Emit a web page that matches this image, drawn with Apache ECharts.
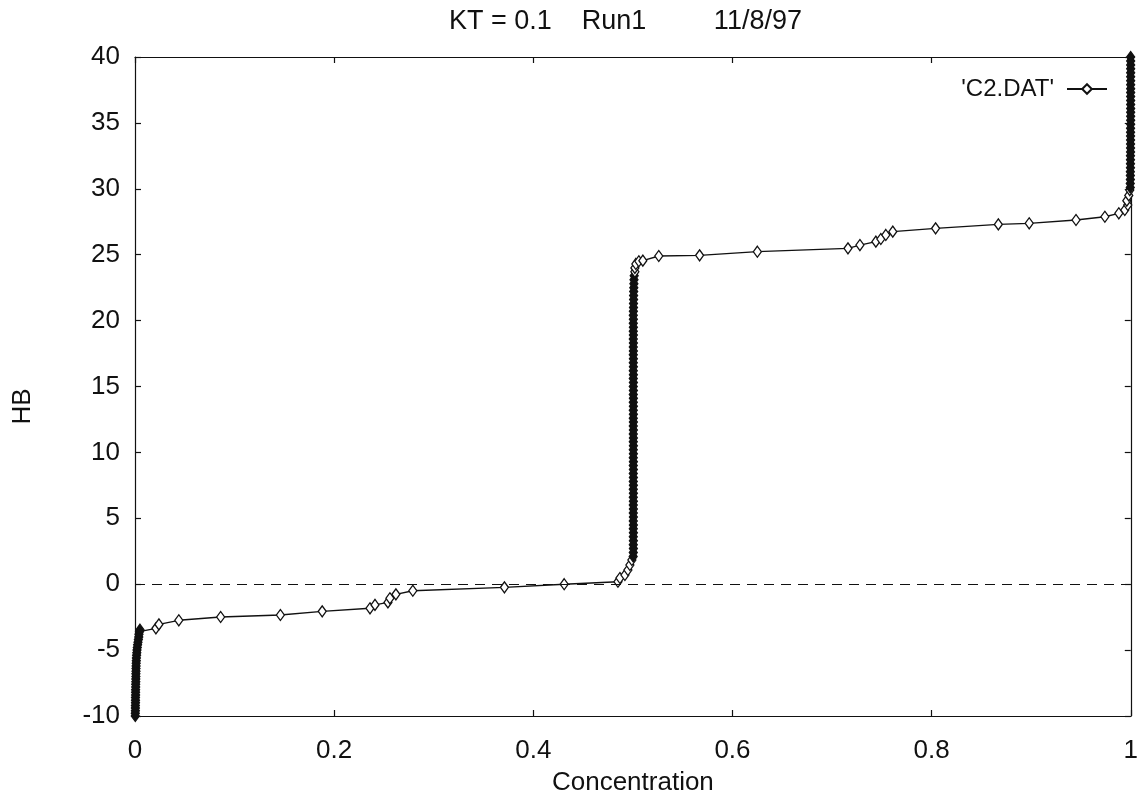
<!DOCTYPE html>
<html>
<head>
<meta charset="utf-8">
<script src="https://cdn.jsdelivr.net/npm/echarts@6/dist/echarts.min.js"></script>
<style>
html,body{margin:0;padding:0;background:#fff;}
#chart{width:1141px;height:801px;}
</style>
</head>
<body>
<div id="chart"></div>
<script>
const titleText = "KT = 0.1    Run1         11/8/97";
const xAxisName = "Concentration";
const yAxisName = "HB";
const seriesName = "'C2.DAT'";
const xTicks = [0, 0.2, 0.4, 0.6, 0.8, 1];
const yTicks = [-10, -5, 0, 5, 10, 15, 20, 25, 30, 35, 40];

// dense column near Concentration = 0
const lowColumn = [
  [0.0003,-10.0],[0.0003,-9.8],[0.0004,-9.6],[0.0004,-9.4],[0.0004,-9.2],[0.0005,-9.0],
  [0.0005,-8.8],[0.0005,-8.6],[0.0006,-8.4],[0.0006,-8.2],[0.0006,-8.0],[0.0007,-7.8],
  [0.0007,-7.6],[0.0008,-7.4],[0.0008,-7.2],[0.0009,-7.0],[0.0009,-6.8],[0.0010,-6.6],
  [0.0010,-6.4],[0.0011,-6.2],[0.0012,-6.0],[0.0013,-5.8],[0.0014,-5.6],[0.0016,-5.4],
  [0.0018,-5.2],[0.0020,-5.0],[0.0023,-4.8],[0.0026,-4.6],[0.0030,-4.4],[0.0034,-4.2],
  [0.0038,-4.0],[0.0040,-3.8],[0.0045,-3.6],[0.0050,-3.45]
];
// sparse branch below 0.5
const lowerBranch = [
  [0.021,-3.35],[0.024,-3.05],[0.044,-2.74],[0.086,-2.49],[0.146,-2.34],[0.188,-2.06],
  [0.236,-1.83],[0.241,-1.57],[0.254,-1.38],[0.256,-1.07],[0.262,-0.77],[0.279,-0.50],
  [0.371,-0.24],[0.431,0.00],[0.485,0.19],[0.487,0.47],[0.492,0.70],[0.495,1.08],
  [0.497,1.46],[0.499,1.84]
];
// dense column at Concentration = 0.5
const midColumn = [
  [0.5003,2.1],[0.5004,2.4],[0.5005,2.7],[0.5004,3.0],[0.5005,3.3],[0.5004,3.6],[0.5005,3.9],
  [0.5004,4.2],[0.5005,4.5],[0.5004,4.8],[0.5005,5.1],[0.5004,5.4],[0.5005,5.7],[0.5004,6.0],
  [0.5005,6.3],[0.5004,6.6],[0.5005,6.9],[0.5004,7.2],[0.5005,7.5],[0.5004,7.8],[0.5005,8.1],
  [0.5004,8.4],[0.5005,8.7],[0.5004,9.0],[0.5005,9.3],[0.5004,9.6],[0.5005,9.9],[0.5004,10.2],
  [0.5005,10.5],[0.5004,10.8],[0.5005,11.1],[0.5004,11.4],[0.5005,11.7],[0.5004,12.0],[0.5005,12.3],
  [0.5004,12.6],[0.5005,12.9],[0.5004,13.2],[0.5005,13.5],[0.5004,13.8],[0.5005,14.1],[0.5004,14.4],
  [0.5005,14.7],[0.5004,15.0],[0.5005,15.3],[0.5004,15.6],[0.5005,15.9],[0.5004,16.2],[0.5005,16.5],
  [0.5004,16.8],[0.5005,17.1],[0.5004,17.4],[0.5005,17.7],[0.5004,18.0],[0.5005,18.3],[0.5004,18.6],
  [0.5005,18.9],[0.5004,19.2],[0.5005,19.5],[0.5004,19.8],[0.5005,20.1],[0.5004,20.4],[0.5005,20.7],
  [0.5006,21.0],[0.5006,21.3],[0.5007,21.6],[0.5007,21.9],[0.5008,22.2],[0.5009,22.5],[0.5010,22.8],
  [0.5011,23.1],[0.5013,23.4]
];
// sparse branch above 0.5
const upperBranch = [
  [0.502,23.7],[0.502,24.0],[0.503,24.3],[0.506,24.5],[0.510,24.55],[0.526,24.9],
  [0.567,24.95],[0.625,25.23],[0.716,25.48],[0.728,25.73],[0.744,25.99],[0.749,26.19],
  [0.754,26.50],[0.761,26.75],[0.804,27.00],[0.867,27.30],[0.898,27.38],[0.945,27.63],
  [0.974,27.88],[0.988,28.14],[0.994,28.39],[0.997,28.77],[0.996,29.10],[0.998,29.50],
  [0.999,29.90]
];
// dense column near Concentration = 1
const topColumn = [
  [0.9995,30.1],[0.9995,30.4],[0.9996,30.7],[0.9996,31.0],[0.9996,31.3],[0.9997,31.6],
  [0.9997,31.9],[0.9997,32.2],[0.9997,32.5],[0.9998,32.8],[0.9998,33.1],[0.9998,33.4],
  [0.9998,33.7],[0.9998,34.0],[0.9998,34.3],[0.9998,34.6],[0.9999,34.9],[0.9999,35.2],
  [0.9999,35.5],[0.9999,35.8],[0.9999,36.1],[0.9999,36.4],[0.9999,36.7],[0.9999,37.0],
  [0.9999,37.3],[0.9999,37.6],[0.9999,37.9],[0.9999,38.2],[0.9999,38.5],[0.9999,38.8],
  [0.9999,39.1],[0.9999,39.4],[0.9999,39.7],[0.9999,40.0]
];

const FONT = 'Liberation Sans';
const INK = '#111';

// dense runs of overlapping markers read as solid black in the original
const denseStyle = {color: INK, borderColor: INK};
function dense(arr) { return arr.map(p => ({value: p, itemStyle: denseStyle})); }
const seriesData = [].concat(
  dense(lowColumn), lowerBranch, dense(midColumn), upperBranch, dense(topColumn)
);

const chart = echarts.init(document.getElementById('chart'), null, {renderer: 'canvas'});
function axisBase() {
  return {
    type: 'value',
    axisLine: {show: true, onZero: false, lineStyle: {color: INK, width: 1.2}},
    axisTick: {show: true, inside: true, length: 6, lineStyle: {color: INK, width: 1.2}},
    splitLine: {show: false}
  };
}
chart.setOption({
  animation: false,
  backgroundColor: '#fff',
  title: {
    text: titleText,
    left: 449,
    top: 8,
    padding: 0,
    textStyle: {fontFamily: FONT, fontSize: 27, fontWeight: 'normal', color: INK}
  },
  legend: {
    data: [seriesName],
    right: 28,
    top: 72,
    align: 'right',
    itemWidth: 40,
    itemHeight: 12,
    textStyle: {fontFamily: FONT, fontSize: 24, color: INK, padding: [0, 8, 0, 0]}
  },
  grid: {left: 135, right: 10, top: 57, bottom: 85, containLabel: false},
  xAxis: [
    Object.assign(axisBase(), {
      min: xTicks[0], max: xTicks[xTicks.length - 1], interval: 0.2,
      position: 'bottom',
      name: xAxisName, nameLocation: 'middle', nameGap: 54,
      nameTextStyle: {fontFamily: FONT, fontSize: 26, color: INK},
      axisLabel: {fontFamily: FONT, fontSize: 26, color: INK, margin: 22}
    }),
    Object.assign(axisBase(), {
      min: xTicks[0], max: xTicks[xTicks.length - 1], interval: 0.2,
      position: 'top', axisLabel: {show: false}
    })
  ],
  yAxis: [
    Object.assign(axisBase(), {
      min: yTicks[0], max: yTicks[yTicks.length - 1], interval: 5,
      position: 'left',
      name: yAxisName, nameLocation: 'middle', nameGap: 99, nameRotate: 90,
      nameTextStyle: {fontFamily: FONT, fontSize: 26, color: INK, padding: [0, 40, 0, 0]},
      axisLabel: {fontFamily: FONT, fontSize: 26, color: INK, margin: 15}
    }),
    Object.assign(axisBase(), {
      min: yTicks[0], max: yTicks[yTicks.length - 1], interval: 5,
      position: 'right', axisLabel: {show: false}
    })
  ],
  series: [{
    name: seriesName,
    type: 'line',
    xAxisIndex: 0,
    yAxisIndex: 0,
    data: seriesData,
    symbol: 'diamond',
    symbolSize: [8, 11],
    showAllSymbol: true,
    clip: false,
    itemStyle: {color: '#fff', borderColor: INK, borderWidth: 1.3},
    lineStyle: {color: INK, width: 1.4},
    emphasis: {disabled: true},
    markLine: {
      silent: true,
      symbol: ['none', 'none'],
      label: {show: false},
      lineStyle: {color: INK, type: [10, 7], width: 1.2},
      data: [{yAxis: 0}]
    },
    z: 3
  }]
});
</script>
</body>
</html>
